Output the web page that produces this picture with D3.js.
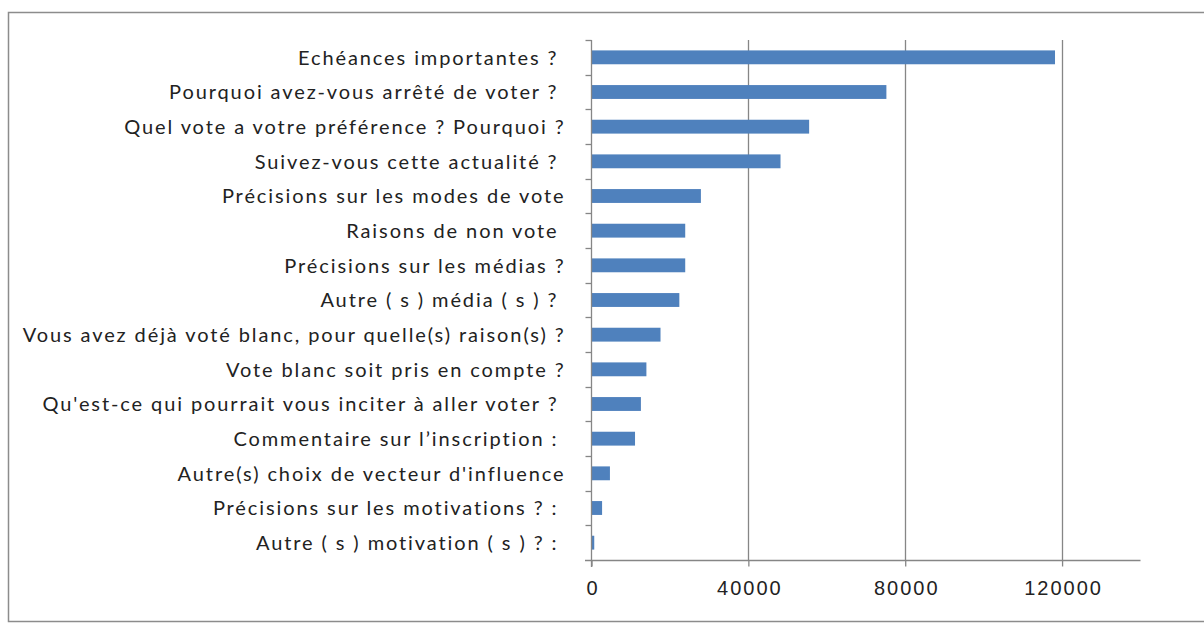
<!DOCTYPE html>
<meta charset="utf-8">
<style>
body { margin: 0; background: #fff; }
svg { font-family: Lato, "Open Sans", sans-serif; }
</style>
<svg width="1204" height="623"></svg>
<script src="https://d3js.org/d3.v7.min.js"></script>
<script>
// categories, top to bottom
var categories = [
  "Echéances importantes ? ",
  "Pourquoi avez-vous arrêté de voter ? ",
  "Quel vote a votre préférence ? Pourquoi ?",
  "Suivez-vous cette actualité ? ",
  "Précisions sur les modes de vote",
  "Raisons de non vote ",
  "Précisions sur les médias ?",
  "Autre ( s ) média ( s ) ? ",
  "Vous avez déjà voté blanc, pour quelle(s) raison(s) ?",
  "Vote blanc soit pris en compte ?",
  "Qu'est-ce qui pourrait vous inciter à aller voter ? ",
  "Commentaire sur l’inscription : ",
  "Autre(s) choix de vecteur d'influence",
  "Précisions sur les motivations ? : ",
  "Autre ( s ) motivation ( s ) ? : "
];
var values = [118200, 75200, 55500, 48200, 27900, 23900, 23900, 22400, 17600, 14000, 12600, 11100, 4700, 2700, 700];
var xTicks = [0, 40000, 80000, 120000];

var svg = d3.select("svg");

// outer frame
svg.append("rect")
    .attr("x", 8.5).attr("y", 12.5)
    .attr("width", 1210).attr("height", 609)
    .attr("fill", "none")
    .attr("stroke", "#8c8c8c")
    .attr("stroke-width", 1.5);

var x = d3.scaleLinear().domain([0, 140000]).range([591.5, 1140.5]);
var y = d3.scaleBand().domain(categories).range([40, 560]).paddingInner(0.6).paddingOuter(0.3);
var yb = d3.scaleBand().domain(categories).range([40, 560]);

// gridlines
svg.append("g").selectAll("line")
    .data(xTicks.slice(1))
  .enter().append("line")
    .attr("x1", function(d) { return Math.round(x(d)) + 0.5; })
    .attr("x2", function(d) { return Math.round(x(d)) + 0.5; })
    .attr("y1", 40).attr("y2", 560)
    .attr("stroke", "#868686")
    .attr("stroke-width", 1.3);

// bars
svg.append("g").selectAll("rect")
    .data(values)
  .enter().append("rect")
    .attr("x", x(0))
    .attr("y", function(d, i) { return y(categories[i]); })
    .attr("width", function(d) { return x(d) - x(0); })
    .attr("height", y.bandwidth())
    .attr("fill", "#4f81bd");

// x axis
var xAxis = svg.append("g")
    .attr("transform", "translate(0,560.5)")
    .call(d3.axisBottom(x).tickValues(xTicks).tickFormat(d3.format("d")).tickSizeOuter(0).tickSize(6).tickPadding(14));
xAxis.select(".domain").attr("stroke", "#868686").attr("stroke-width", 1.3).attr("d", "M585,0H1140.5");
xAxis.selectAll(".tick line").attr("stroke", "#868686").attr("stroke-width", 1.3);
xAxis.selectAll(".tick text")
    .attr("fill", "#222")
    .attr("dx", "1px")
    .style("font-size", "20px")
    .style("letter-spacing", "2px");

// y axis: ticks at band boundaries, labels at band centres
var yAxis = svg.append("g").attr("transform", "translate(591.5,0)");
yAxis.append("line")
    .attr("x1", 0).attr("x2", 0).attr("y1", 40).attr("y2", 567)
    .attr("stroke", "#868686").attr("stroke-width", 1.3);
yAxis.selectAll("line.t")
    .data(categories)
  .enter().append("line")
    .attr("class", "t")
    .attr("x1", -6).attr("x2", 0)
    .attr("y1", function(d) { return Math.round(yb(d)) + 0.5; })
    .attr("y2", function(d) { return Math.round(yb(d)) + 0.5; })
    .attr("stroke", "#868686").attr("stroke-width", 1.3);
yAxis.selectAll("text")
    .data(categories)
  .enter().append("text")
    .attr("x", -26)
    .attr("y", function(d) { return yb(d) + yb.bandwidth() / 2; })
    .attr("dy", "0.36em")
    .attr("text-anchor", "end")
    .style("white-space", "pre")
    .style("font-size", "20px")
    .style("letter-spacing", "1.9px")
    .attr("fill", "#222")
    .text(function(d) { return d; });
</script>
